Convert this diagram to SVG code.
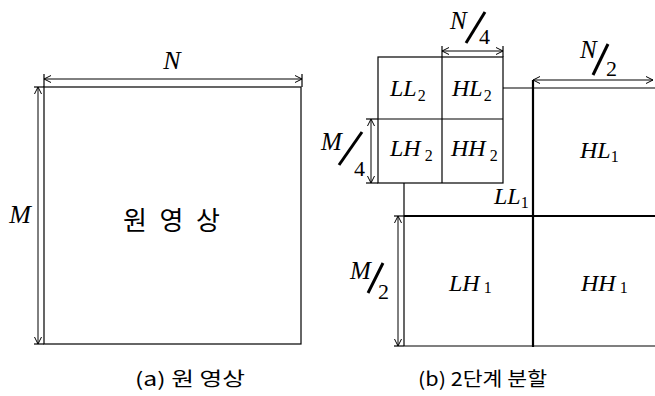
<svg xmlns="http://www.w3.org/2000/svg" width="655" height="396" viewBox="0 0 655 396">
<style>
.ln{stroke:#000;stroke-width:1.2;fill:none}
.tk{stroke:#000;stroke-width:2.2;fill:none}
.dim{stroke:#000;stroke-width:1;fill:none;marker-start:url(#a);marker-end:url(#a)}
.sl{stroke:#000;stroke-width:3;fill:none}
.it{font-family:'Liberation Serif','Times New Roman','DejaVu Serif',serif;font-style:italic;fill:#000}
.up{font-family:'Liberation Serif','Times New Roman','DejaVu Serif',serif;fill:#000}
.sub{font-style:normal;font-size:16px}
.kr{font-family:'Noto Sans CJK KR',sans-serif;fill:#000}
</style>
<defs>
<marker id="a" orient="auto-start-reverse" markerUnits="userSpaceOnUse" overflow="visible"><path d="M-7,-3.5 L0,0 L-7,3.5" fill="none" stroke="#000" stroke-width="1"/></marker>
</defs>

<g id="original">
<rect class="ln" x="44" y="87" width="257" height="257"/>
<text class="kr" x="123" y="230" font-size="26" textLength="97" lengthAdjust="spacing">원 영 상</text>
</g>

<g id="level2">
<rect class="ln" x="378" y="57" width="125" height="126"/>
<line class="ln" x1="442" y1="57" x2="442" y2="183"/>
<line class="ln" x1="378" y1="119" x2="503" y2="119"/>
<text class="it" x="390" y="96" font-size="24">LL<tspan class="sub" dx="1" dy="5">2</tspan></text>
<text class="it" x="452" y="96" font-size="24">HL<tspan class="sub" dx="1" dy="5">2</tspan></text>
<text class="it" x="390" y="156" font-size="24">LH<tspan class="sub" dx="4" dy="5">2</tspan></text>
<text class="it" x="451" y="156" font-size="24">HH<tspan class="sub" dx="4" dy="5">2</tspan></text>
</g>

<g id="level1">
<line class="ln" x1="503" y1="88" x2="655" y2="88"/>
<line class="ln" x1="404" y1="183" x2="404" y2="346"/>
<line class="ln" x1="404" y1="346" x2="655" y2="346"/>
<line class="tk" x1="533" y1="80" x2="533" y2="347"/>
<line class="tk" x1="404" y1="216" x2="655" y2="216"/>
<text class="it" x="494" y="204" font-size="24">LL<tspan class="sub" dx="0" dy="4">1</tspan></text>
<text class="it" x="580" y="158" font-size="24">HL<tspan class="sub" dx="0" dy="4">1</tspan></text>
<text class="it" x="449" y="291" font-size="24">LH<tspan class="sub" dx="4" dy="2">1</tspan></text>
<text class="it" x="581" y="291" font-size="24">HH<tspan class="sub" dx="4" dy="2">1</tspan></text>
</g>

<g id="connectors">
<line class="dim" x1="44" y1="79" x2="302" y2="79"/>
<line class="ln" x1="44" y1="74" x2="44" y2="87" stroke-width="1"/>
<line class="ln" x1="302" y1="74" x2="302" y2="87" stroke-width="1"/>
<line class="dim" x1="38" y1="87" x2="38" y2="344"/>
<line class="ln" x1="34" y1="87" x2="44" y2="87" stroke-width="1"/>
<line class="ln" x1="34" y1="344" x2="44" y2="344" stroke-width="1"/>

<line class="dim" x1="442" y1="51" x2="503" y2="51"/>
<line class="ln" x1="442" y1="46" x2="442" y2="57" stroke-width="1"/>
<line class="ln" x1="503" y1="46" x2="503" y2="57" stroke-width="1"/>

<line class="dim" x1="533" y1="80" x2="653" y2="80"/>

<line class="dim" x1="371" y1="119" x2="371" y2="183"/>
<line class="ln" x1="366" y1="119" x2="378" y2="119" stroke-width="1"/>
<line class="ln" x1="366" y1="183" x2="378" y2="183" stroke-width="1"/>

<line class="dim" x1="398" y1="216" x2="398" y2="346"/>
<line class="ln" x1="394" y1="216" x2="404" y2="216" stroke-width="1"/>
<line class="ln" x1="394" y1="346" x2="404" y2="346" stroke-width="1"/>
</g>

<g id="labels">
<text class="it" x="172" y="69" font-size="26" text-anchor="middle">N</text>
<text class="it" x="20" y="223" font-size="26" text-anchor="middle">M</text>

<text class="it" x="450" y="29" font-size="25">N</text>
<line class="sl" x1="466" y1="43" x2="485" y2="12"/>
<text class="up" x="479" y="44" font-size="22">4</text>

<text class="it" x="580" y="58" font-size="25">N</text>
<line class="sl" x1="593" y1="75" x2="608" y2="44"/>
<text class="up" x="606" y="76" font-size="22">2</text>

<text class="it" x="321" y="150" font-size="25">M</text>
<line class="sl" x1="339" y1="165" x2="362" y2="132"/>
<text class="up" x="354" y="176" font-size="22">4</text>

<text class="it" x="350" y="279" font-size="25">M</text>
<line class="sl" x1="368" y1="293" x2="383" y2="263"/>
<text class="up" x="378" y="299" font-size="22">2</text>
</g>

<g id="captions">
<text class="kr" x="135" y="386" font-size="19" textLength="110" lengthAdjust="spacingAndGlyphs">(a) 원 영상</text>
<text class="kr" x="418" y="386" font-size="19" textLength="129" lengthAdjust="spacingAndGlyphs">(b) 2단계 분할</text>
</g>
</svg>
